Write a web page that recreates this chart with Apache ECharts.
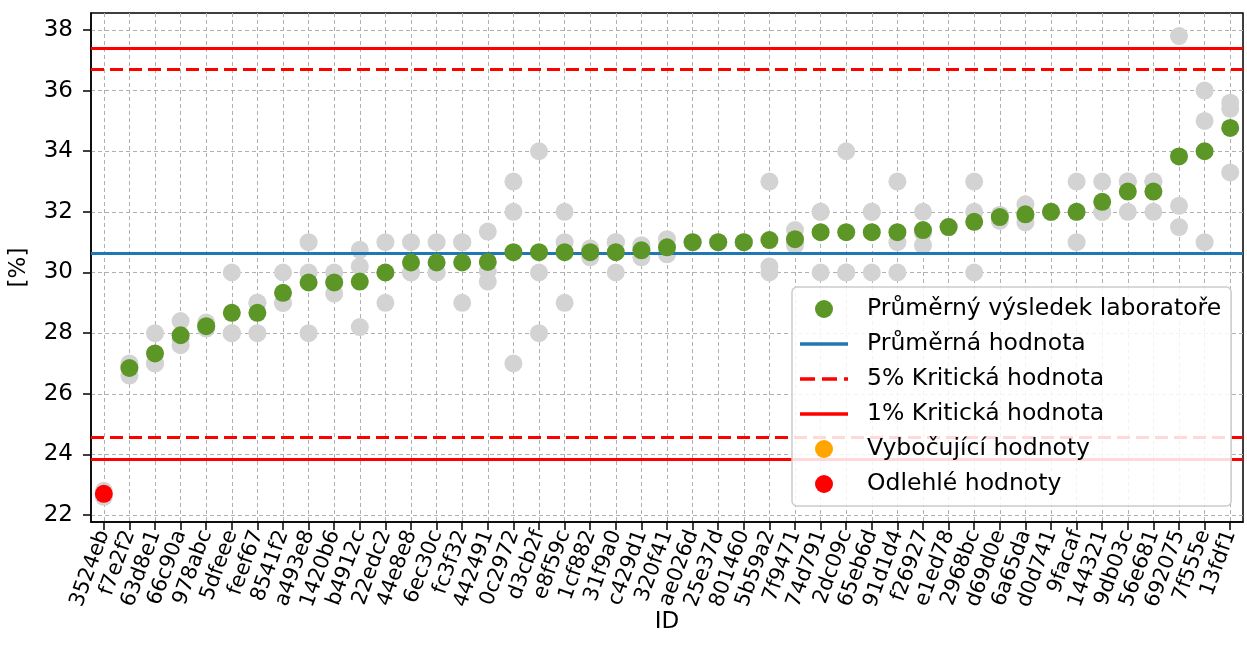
<!DOCTYPE html>
<html>
<head>
<meta charset="utf-8">
<script src="https://cdn.jsdelivr.net/npm/echarts@6/dist/echarts.min.js"></script>
<style>
html,body{margin:0;padding:0;background:#fff;}
#chart{width:1247px;height:659px;}
</style>
</head>
<body>
<div id="chart"></div>
<script>
const ids = ['3524eb','f7e2f2','63d8e1','66c90a','978abc','5dfeee','feef67','8541f2','a493e8','1420b6',
  'b4912c','22edc2','44e8e8','6ec30c','fc3f32','442491','0c2972','d3cb2f','e8f59c','1cf882',
  '31f9a0','c429d1','320f41','ae026d','25e37d','801460','5b59a2','7f9471','74d791','2dc09c',
  '65eb6d','91d1d4','f26927','e1ed78','2968bc','d69d0e','6a65da','d0d741','9facaf','144321',
  '9db03c','56e681','692075','7f555e','13fdf1'];

const labMeans = [22.7,26.85,27.33,27.93,28.23,28.67,28.67,29.33,29.67,29.67,
  29.7,30.0,30.33,30.33,30.33,30.35,30.67,30.67,30.67,30.67,
  30.67,30.73,30.83,31.0,31.0,31.0,31.07,31.1,31.33,31.33,
  31.33,31.33,31.4,31.5,31.67,31.83,31.92,32.0,32.0,32.33,
  32.67,32.67,33.83,34.0,34.77];

const replicates = [
  [22.8,22.7,22.6],[27.0,26.9,26.6],[28.0,27.0,27.0],[28.4,27.8,27.6],[28.35,28.25,28.15],
  [30.0,28.0,28.0],[29.0,29.0,28.0],[30.0,29.0,29.0],[31.0,30.0,28.0],[30.0,29.7,29.3],
  [30.75,30.2,28.2],[31.0,30.0,29.0],[31.0,30.0,30.0],[31.0,30.0,30.0],[31.0,31.0,29.0],
  [31.35,30.05,29.7],[33.0,32.0,27.0],[34.0,30.0,28.0],[32.0,31.0,29.0],[30.8,30.7,30.5],
  [31.0,31.0,30.0],[30.9,30.8,30.5],[31.1,30.85,30.6],[31.0,31.0,31.0],[31.0,31.0,31.0],
  [31.0,31.0,31.0],[33.0,30.2,30.0],[31.4,31.0,30.9],[32.0,32.0,30.0],[34.0,30.0,30.0],
  [32.0,32.0,30.0],[33.0,31.0,30.0],[32.0,31.3,30.9],[31.5,31.5,31.5],[33.0,32.0,30.0],
  [31.9,31.9,31.7],[32.25,31.85,31.65],[32.0,32.0,32.0],[33.0,32.0,31.0],[33.0,32.0,32.0],
  [33.0,33.0,32.0],[33.0,33.0,32.0],[37.8,32.2,31.5],[36.0,35.0,31.0],[35.6,35.4,33.3]
];

const outlierIds = ['3524eb'];
const stragglerIds = [];

const meanValue = 30.62;
const crit5 = [24.55, 36.69];
const crit1 = [23.85, 37.39];

const yTicks = [22,24,26,28,30,32,34,36,38];
const yRange = [21.77, 38.56];

const seriesNames = ['Průměrný výsledek laboratoře','Průměrná hodnota','5% Kritická hodnota',
  '1% Kritická hodnota','Vybočující hodnoty','Odlehlé hodnoty'];

const greyData = [];
replicates.forEach((arr, i) => arr.forEach(v => greyData.push([i, v])));
const normalData = [], outlierData = [], stragglerData = [];
labMeans.forEach((v, i) => {
  if (outlierIds.includes(ids[i])) outlierData.push([i, v]);
  else if (stragglerIds.includes(ids[i])) stragglerData.push([i, v]);
  else normalData.push([i, v]);
});

const FONT = 'DejaVu Sans';
const LW = 3;
function hline(name, values, color, type, z) {
  return {
    name: name, type: 'line', data: [], symbol: 'none', z: z,
    lineStyle: {color: color, width: LW, type: type},
    itemStyle: {color: color},
    markLine: {
      silent: true, symbol: 'none', label: {show: false},
      lineStyle: {color: color, width: LW, type: type},
      data: values.map(v => ({yAxis: v}))
    }
  };
}

const solidIcon = 'path://M0,0h48v3.5h-48z';
const dashIcon = 'path://M0,0h15v3.5h-15zM22,0h15v3.5h-15zM44,0h4v3.5h-4z';

const chart = echarts.init(document.getElementById('chart'), null, {renderer: 'canvas'});
chart.setOption({
  animation: false,
  textStyle: {fontFamily: FONT},
  grid: {left: 91, right: 4, top: 13, bottom: 137, outerBoundsMode: 'none', containLabel: false,
    show: true, borderColor: '#000', borderWidth: 1.5, backgroundColor: 'transparent'},
  xAxis: {
    type: 'category', data: ids, boundaryGap: true,
    name: 'ID', nameLocation: 'middle', nameGap: 89, nameMoveOverlap: false,
    nameTextStyle: {fontSize: 23, color: '#000', fontFamily: FONT},
    axisLine: {show: true, lineStyle: {color: '#000', width: 1.5}},
    axisTick: {show: true, alignWithLabel: true, interval: 0, length: 8, lineStyle: {color: '#000', width: 1.5}},
    axisLabel: {interval: 0, rotate: 70, fontSize: 21, color: '#000', margin: 9, fontFamily: FONT, padding: [20, 0, 0, 0]},
    splitLine: {show: true, interval: 0, alignWithLabel: true, lineStyle: {color: '#b0b0b0', type: [4, 3], width: 1}}
  },
  yAxis: {
    type: 'value', min: yRange[0], max: yRange[1],
    name: '[%]', nameLocation: 'middle', nameGap: 60, nameRotate: 90, nameMoveOverlap: false,
    nameTextStyle: {fontSize: 23, color: '#000', fontFamily: FONT},
    axisLine: {show: true, lineStyle: {color: '#000', width: 1.5}},
    axisTick: {show: true, length: 8, customValues: yTicks, lineStyle: {color: '#000', width: 1.5}},
    axisLabel: {fontSize: 23, color: '#000', margin: 18, customValues: yTicks, fontFamily: FONT},
    splitLine: {show: true, customValues: yTicks, lineStyle: {color: '#b0b0b0', type: [4, 3], width: 1}}
  },
  legend: {
    data: [
      {name: seriesNames[0], icon: 'circle'},
      {name: seriesNames[1], icon: solidIcon},
      {name: seriesNames[2], icon: dashIcon},
      {name: seriesNames[3], icon: solidIcon},
      {name: seriesNames[4], icon: 'circle'},
      {name: seriesNames[5], icon: 'circle'}
    ],
    orient: 'vertical', left: 792, top: 287,
    padding: [10, 10, 10, 8], itemGap: 11,
    itemWidth: 48, itemHeight: 18,
    backgroundColor: 'rgba(255,255,255,0.85)', borderColor: '#cccccc', borderWidth: 1.5, borderRadius: 5,
    textStyle: {fontSize: 23.5, lineHeight: 24, color: '#000', fontFamily: FONT, padding: [0, 0, 0, 14]},
    z: 20
  },
  series: [
    {name: 'replicates', type: 'scatter', data: greyData, symbolSize: 18, z: 2,
     itemStyle: {color: '#d3d3d3', opacity: 1}, silent: true},
    hline(seriesNames[1], [meanValue], '#1f77b4', 'solid', 3),
    hline(seriesNames[2], crit5, '#ff0000', [13, 6], 3),
    hline(seriesNames[3], crit1, '#ff0000', 'solid', 3),
    {name: seriesNames[0], type: 'scatter', data: normalData, symbolSize: 18, z: 5,
     itemStyle: {color: '#5b9626', opacity: 1}},
    {name: seriesNames[4], type: 'scatter', data: stragglerData, symbolSize: 18, z: 5,
     itemStyle: {color: '#ffa500', opacity: 1}},
    {name: seriesNames[5], type: 'scatter', data: outlierData, symbolSize: 18, z: 5,
     itemStyle: {color: '#ff0000', opacity: 1}}
  ]
});
</script>
</body>
</html>
